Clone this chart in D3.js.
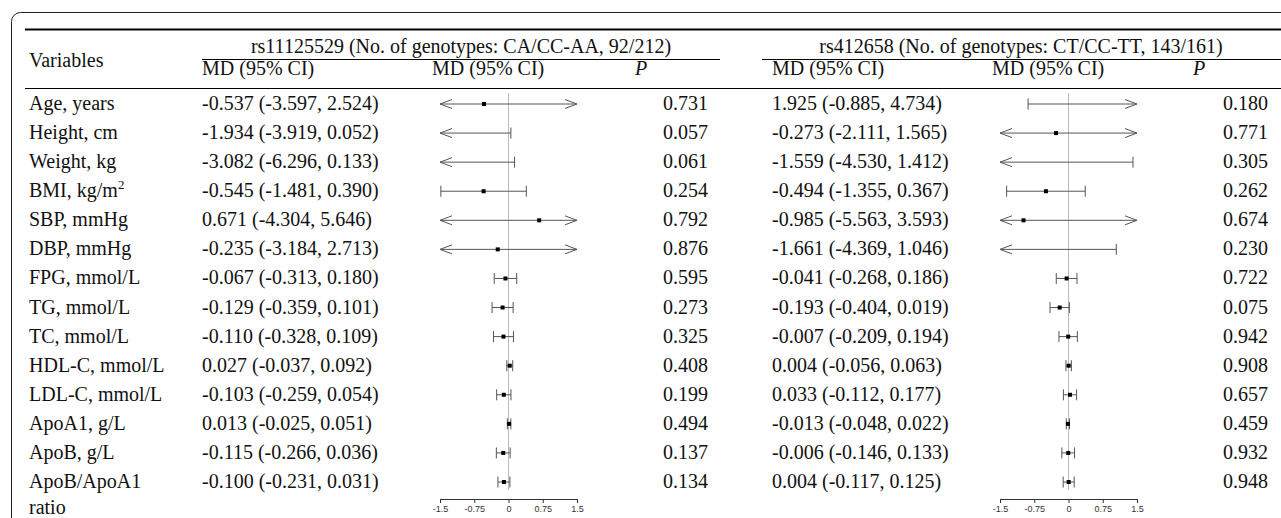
<!DOCTYPE html>
<html>
<head>
<meta charset="utf-8">
<script src="https://cdn.jsdelivr.net/npm/d3@7"></script>
<style>
  body { margin: 0; background: #fff; }
  text { font-family: "Liberation Serif", "Times New Roman", serif; fill: #111; }
  .axis text { font-family: "Liberation Sans", Arial, sans-serif; font-size: 9px; fill: #333; }
  .axis path, .axis line { stroke: #333; }
</style>
</head>
<body>
<div id="chart"></div>
<script>
var width = 1281, height = 518;

// variables (rows)
var variables = ["Age, years", "Height, cm", "Weight, kg", "BMI, kg/m", "SBP, mmHg", "DBP, mmHg",
  "FPG, mmol/L", "TG, mmol/L", "TC, mmol/L", "HDL-C, mmol/L", "LDL-C, mmol/L",
  "ApoA1, g/L", "ApoB, g/L", "ApoB/ApoA1"];

// rs11125529 CA/CC-AA
var md1 = [-0.537, -1.934, -3.082, -0.545, 0.671, -0.235, -0.067, -0.129, -0.110, 0.027, -0.103, 0.013, -0.115, -0.100];
var lo1 = [-3.597, -3.919, -6.296, -1.481, -4.304, -3.184, -0.313, -0.359, -0.328, -0.037, -0.259, -0.025, -0.266, -0.231];
var hi1 = [2.524, 0.052, 0.133, 0.390, 5.646, 2.713, 0.180, 0.101, 0.109, 0.092, 0.054, 0.051, 0.036, 0.031];
var p1 = ["0.731", "0.057", "0.061", "0.254", "0.792", "0.876", "0.595", "0.273", "0.325", "0.408", "0.199", "0.494", "0.137", "0.134"];

// rs412658 CT/CC-TT
var md2 = [1.925, -0.273, -1.559, -0.494, -0.985, -1.661, -0.041, -0.193, -0.007, 0.004, 0.033, -0.013, -0.006, 0.004];
var lo2 = [-0.885, -2.111, -4.530, -1.355, -5.563, -4.369, -0.268, -0.404, -0.209, -0.056, -0.112, -0.048, -0.146, -0.117];
var hi2 = [4.734, 1.565, 1.412, 0.367, 3.593, 1.046, 0.186, 0.019, 0.194, 0.063, 0.177, 0.022, 0.133, 0.125];
var p2 = ["0.180", "0.771", "0.305", "0.262", "0.674", "0.230", "0.722", "0.075", "0.942", "0.908", "0.657", "0.459", "0.932", "0.948"];

var ticks = [-1.5, -0.75, 0, 0.75, 1.5];

var svg = d3.select('#chart').append('svg')
    .attr('width', width)
    .attr('height', height);

// rounded frame
svg.append('rect')
    .attr('x', 11.5).attr('y', 12.5)
    .attr('width', 1300).attr('height', 600)
    .attr('rx', 9)
    .attr('fill', 'none')
    .attr('stroke', '#222')
    .attr('stroke-width', 1);

// rules
svg.append('line').attr('x1', 25).attr('x2', width).attr('y1', 29.5).attr('y2', 29.5)
    .attr('stroke', '#000').attr('stroke-width', 2);
svg.append('line').attr('x1', 202).attr('x2', 720).attr('y1', 59.5).attr('y2', 59.5)
    .attr('stroke', '#000');
svg.append('line').attr('x1', 762).attr('x2', width).attr('y1', 59.5).attr('y2', 59.5)
    .attr('stroke', '#000');
svg.append('line').attr('x1', 25).attr('x2', width).attr('y1', 88.5).attr('y2', 88.5)
    .attr('stroke', '#000');

var fs = '20px';

// headers
svg.append('text').attr('x', 29).attr('y', 67).style('font-size', fs).text('Variables');
svg.append('text').attr('x', 461).attr('y', 53).attr('text-anchor', 'middle').style('font-size', fs)
    .text('rs11125529 (No. of genotypes: CA/CC-AA, 92/212)');
svg.append('text').attr('x', 1021).attr('y', 53).attr('text-anchor', 'middle').style('font-size', fs)
    .text('rs412658 (No. of genotypes: CT/CC-TT, 143/161)');

var groups = [
  {md: md1, lo: lo1, hi: hi1, p: p1, xText: 202, xHead: 432, plot: [440, 577], xP: 635, xPv: 708},
  {md: md2, lo: lo2, hi: hi2, p: p2, xText: 772, xHead: 992, plot: [1000, 1137], xP: 1193, xPv: 1268}
];

// row positions
var yScale = d3.scaleLinear().domain([0, variables.length - 1]).range([104, 482]);

// variable labels
var lab = svg.selectAll('.var')
    .data(variables)
    .enter().append('text')
    .attr('class', 'var')
    .attr('x', 29)
    .attr('y', function(d, i) { return yScale(i) + 6; })
    .style('font-size', fs)
    .text(function(d) { return d; });
lab.filter(function(d) { return d == 'BMI, kg/m'; })
    .append('tspan').attr('dy', -8).style('font-size', '13px').text('2');
svg.append('text').attr('x', 29).attr('y', yScale(variables.length - 1) + 6 + 26)
    .style('font-size', fs).text('ratio');

function fmt(v) { return v.toFixed(3); }

groups.forEach(function(g) {
  svg.append('text').attr('x', g.xText).attr('y', 75).style('font-size', fs).text('MD (95% CI)');
  svg.append('text').attr('x', g.xHead).attr('y', 75).style('font-size', fs).text('MD (95% CI)');
  svg.append('text').attr('x', g.xP).attr('y', 75).style('font-size', fs).style('font-style', 'italic').text('P');

  // CI text
  svg.append('g').selectAll('text')
      .data(g.md)
      .enter().append('text')
      .attr('x', g.xText)
      .attr('y', function(d, i) { return yScale(i) + 6; })
      .style('font-size', fs)
      .text(function(d, i) { return fmt(d) + ' (' + fmt(g.lo[i]) + ', ' + fmt(g.hi[i]) + ')'; });

  // P values
  svg.append('g').selectAll('text')
      .data(g.p)
      .enter().append('text')
      .attr('x', g.xPv)
      .attr('y', function(d, i) { return yScale(i) + 6; })
      .attr('text-anchor', 'end')
      .style('font-size', fs)
      .text(function(d) { return d; });

  // forest plot
  var x = d3.scaleLinear().domain([-1.5, 1.5]).range(g.plot);
  var plot = svg.append('g');

  plot.append('line')
      .attr('x1', x(0)).attr('x2', x(0))
      .attr('y1', 93).attr('y2', 490)
      .attr('stroke', '#bbb').attr('stroke-width', 1);

  var row = plot.selectAll('.row')
      .data(g.md)
      .enter().append('g')
      .attr('class', 'row')
      .attr('transform', function(d, i) { return 'translate(0,' + yScale(i) + ')'; });

  row.append('line')
      .attr('x1', function(d, i) { return x(Math.max(g.lo[i], -1.5)); })
      .attr('x2', function(d, i) { return x(Math.min(g.hi[i], 1.5)); })
      .attr('y1', 0).attr('y2', 0)
      .attr('stroke', '#555').attr('stroke-width', 1);

  // left end: cap or arrow
  row.append('path')
      .attr('d', function(d, i) {
        if (g.lo[i] < -1.5) {
          var t = x(-1.5);
          return 'M' + (t + 12) + ',-4.5L' + t + ',0L' + (t + 12) + ',4.5';
        }
        var c = x(g.lo[i]);
        return 'M' + c + ',-5.5L' + c + ',5.5';
      })
      .attr('fill', 'none').attr('stroke', '#555').attr('stroke-width', 1);

  // right end: cap or arrow
  row.append('path')
      .attr('d', function(d, i) {
        if (g.hi[i] > 1.5) {
          var t = x(1.5);
          return 'M' + (t - 12) + ',-4.5L' + t + ',0L' + (t - 12) + ',4.5';
        }
        var c = x(g.hi[i]);
        return 'M' + c + ',-5.5L' + c + ',5.5';
      })
      .attr('fill', 'none').attr('stroke', '#555').attr('stroke-width', 1);

  // point estimate (only if within range)
  row.filter(function(d) { return d >= -1.5 && d <= 1.5; })
      .append('rect')
      .attr('x', function(d) { return x(d) - 2; })
      .attr('y', -2)
      .attr('width', 4).attr('height', 4)
      .attr('fill', '#000');

  // axis
  plot.append('g')
      .attr('class', 'axis')
      .attr('transform', 'translate(0,499)')
      .call(d3.axisBottom(x).tickValues(ticks).tickSize(4).tickSizeOuter(4).tickPadding(3)
        .tickFormat(function(d) { return String(d); }));
});
</script>
</body>
</html>
